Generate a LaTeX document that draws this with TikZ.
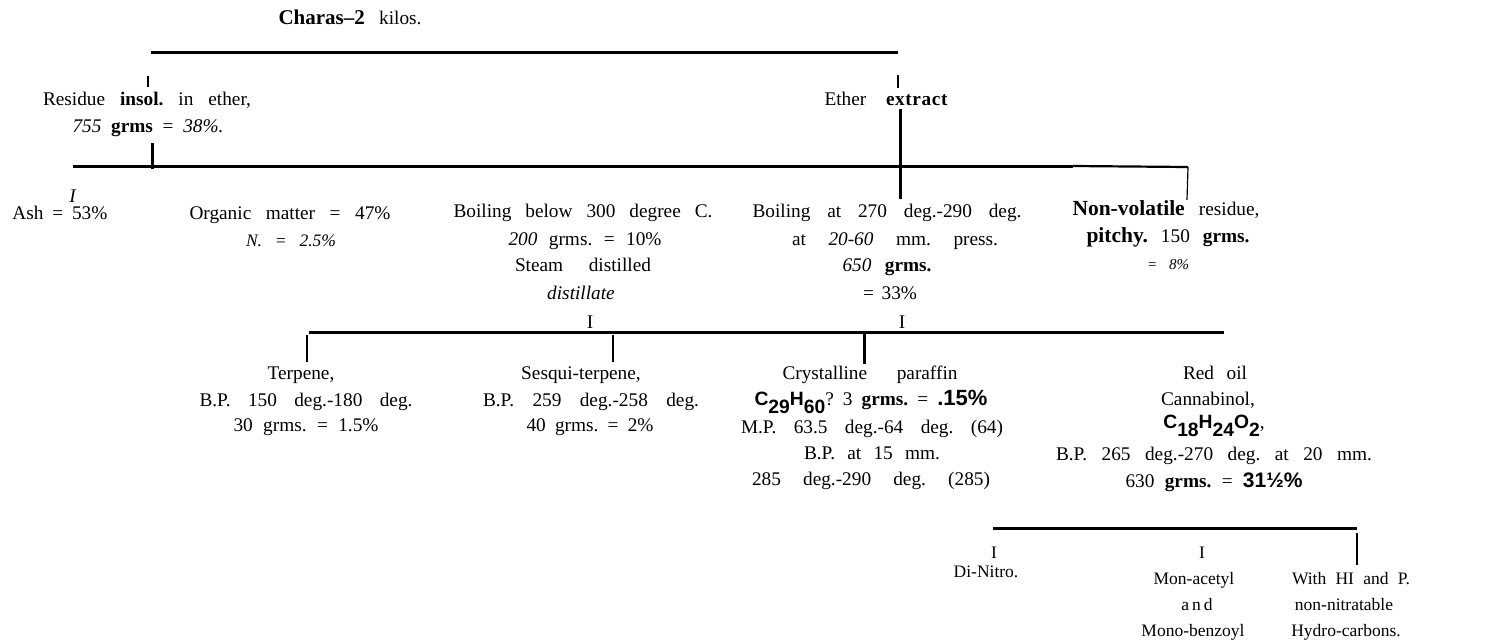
\documentclass[tikz,border=0pt]{standalone}
\usepackage{fontspec}
\setmainfont{Liberation Serif}
\newfontfamily\fsans{Liberation Sans}
\frenchspacing
\newcommand{\spr}[2]{\makebox[#1pt][s]{#2}}
\newcommand{\chs}[1]{\raisebox{-0.42em}{#1}}
\newcommand{\fb}[1]{{\fsans\bfseries #1}}
\tikzset{
  txt/.style={anchor=base, inner sep=0pt, font=\fontsize{19.3}{27}\selectfont},
  sm/.style={anchor=base, inner sep=0pt, font=\fontsize{17.5}{26}\selectfont},
  tiny/.style={anchor=base, inner sep=0pt, font=\fontsize{15}{20}\selectfont},
  bar/.style={line width=3pt},
  hair/.style={line width=1.2pt},
  midbar/.style={line width=2pt},
}
\begin{document}
\begin{tikzpicture}[x=1pt,y=-1pt]
\useasboundingbox[fill=white] (0,0) rectangle (1492,641);

% ---- texts ----
\node[txt] (charas) at (350,24) {\spr{143}{\textbf{\fontsize{21}{27}\selectfont Charas–2} kilos.}};

\node[txt] (res1) at (147,105) {\spr{208}{Residue \textbf{insol.} in ether,}};
\node[txt] (res2) at (148,132) {\spr{151}{\textit{755} \textbf{grms} = \textit{38\%.}}};
\node[txt] (ether) at (886,105) {\spr{123}{Ether \textbf{e\kern.6pt x\kern.6pt t\kern.6pt r\kern.6pt a\kern.6pt c\kern.6pt t}}};

\node[txt] (ashI) at (73,202) {\textit{I}};
\node[txt] (ash) at (60,219) {\spr{95}{Ash = 53\%}};
\node[txt] (org1) at (290,219) {\spr{201}{Organic matter = 47\%}};
\node[sm] (org2) at (291,246) {\spr{90}{\textit{N. = 2.5\%}}};

\node[txt] (bb1) at (583,217) {\spr{259}{Boiling below 300 degree C.}};
\node[txt] (bb2) at (585,245) {\spr{153}{\textit{200} grms. = 10\%}};
\node[txt] (bb3) at (583,271) {\spr{136}{Steam distilled}};
\node[txt] (bb4) at (581,299) {\textit{distillate}};

\node[txt] (ba1) at (887,217) {\spr{269}{Boiling at 270 deg.-290 deg.}};
\node[txt] (ba2) at (895,245) {\spr{206}{at \textit{20-60} mm. press.}};
\node[txt] (ba3) at (887,271) {\spr{89}{\textit{650} \textbf{grms.}}};
\node[txt] (ba4) at (890,299) {\spr{54}{= 33\%}};

\node[txt] (nv1) at (1166,215) {\spr{187}{{\fontsize{21.5}{27}\selectfont\bfseries Non-volatile} residue,}};
\node[txt] (nv2) at (1168,242) {\spr{163}{{\fontsize{21.5}{27}\selectfont\bfseries pitchy.} 150 \textbf{grms.}}};
\node[tiny] (nv3) at (1168,269) {\spr{42}{\textit{= 8\%}}};

\node[txt] (iA) at (590,328) {I};
\node[txt] (iB) at (902,328) {I};

\node[txt] (tp1) at (301,379) {Terpene,};
\node[txt] (tp2) at (306,406) {\spr{213}{B.P. 150 deg.-180 deg.}};
\node[txt] (tp3) at (306,431) {\spr{145}{30 grms. = 1.5\%}};

\node[txt] (sq1) at (581,379) {Sesqui-terpene,};
\node[txt] (sq2) at (591,406) {\spr{216}{B.P. 259 deg.-258 deg.}};
\node[txt] (sq3) at (590,431) {\spr{127}{40 grms. = 2\%}};

\node[txt] (cr1) at (870,379) {\spr{175}{Crystalline paraffin}};
\node[txt] (cr2) at (871,405) {\spr{233}{\fb{C\chs{29}H\chs{60}}? 3 \textbf{grms.} = {\fsans\bfseries\fontsize{22}{27}\selectfont .15\%}}};
\node[txt] (cr3) at (872,433) {\spr{262}{M.P. 63.5 deg.-64 deg. (64)}};
\node[txt] (cr4) at (872,459) {\spr{136}{B.P. at 15 mm.}};
\node[txt] (cr5) at (871,485) {\spr{238}{285 deg.-290 deg. (285)}};

\node[txt] (ro1) at (1215,379) {\spr{64}{Red oil}};
\node[txt] (ro2) at (1208,405) {Cannabinol,};
\node[txt] (ro3) at (1214,428) {\fb{C\chs{18}H\chs{24}O\chs{2}},};
\node[txt] (ro4) at (1214,460) {\spr{316}{B.P. 265 deg.-270 deg. at 20 mm.}};
\node[txt] (ro5) at (1214,487) {\spr{177}{630 \textbf{grms.} = {\fsans\bfseries\fontsize{21}{27}\selectfont 31½\%}}};

\node[sm] (dnI) at (994,558) {I};
\node[sm] (dn) at (986,577) {Di-Nitro.};
\node[sm] (maI) at (1202,558) {I};
\node[sm] (ma1) at (1194,584) {Mon-acetyl};
\node[sm] (ma2) at (1197,610) {a\,n\,d};
\node[sm] (ma3) at (1193,636) {Mono-benzoyl};
\node[sm] (hi1) at (1351,584) {\spr{118}{With HI and P.}};
\node[sm] (hi2) at (1344,610) {non-nitratable};
\node[sm] (hi3) at (1346,636) {Hydro-carbons.};

% ---- bars ----
\coordinate (t1) at (151,52);  \coordinate (t2) at (898,52);
\draw[bar] (t1) -- (t2);
\coordinate (rt1) at (148,76); \coordinate (rt2) at (148,87);
\draw[hair] (rt1) -- (rt2);
\coordinate (et1) at (898,75); \coordinate (et2) at (898,88);
\draw[hair] (et1) -- (et2);

\coordinate (rv1) at (152,143); \coordinate (rv2) at (152,169);
\draw[bar] (rv1) -- (rv2);
\coordinate (h1) at (73,166); \coordinate (h2) at (1073,166); \coordinate (h3) at (1188,167);
\draw[bar] (h1) -- (h2);
\draw[line width=2.2pt] (h2) -- (h3);
\coordinate (ev1) at (900,109); \coordinate (ev2) at (900,199);
\draw[bar] (ev1) -- (ev2);
\coordinate (nvt) at (1187,200);
\draw[hair] (h3) -- (nvt);

\coordinate (m1) at (309,332); \coordinate (m2) at (1224,332);
\draw[bar] (m1) -- (m2);
\coordinate (tp0) at (307,335); \coordinate (tpb) at (307,362);
\draw[midbar] (tp0) -- (tpb);
\coordinate (sq0) at (613,335); \coordinate (sqb) at (613,362);
\draw[midbar] (sq0) -- (sqb);
\coordinate (cr0) at (864,334); \coordinate (crb) at (864,364);
\draw[bar] (cr0) -- (crb);

\coordinate (b1) at (993,528); \coordinate (b2) at (1357,528);
\draw[bar] (b1) -- (b2);
\coordinate (bt1) at (1357,533); \coordinate (bt2) at (1357,565);
\draw[hair] (bt1) -- (bt2);
\end{tikzpicture}
\end{document}
